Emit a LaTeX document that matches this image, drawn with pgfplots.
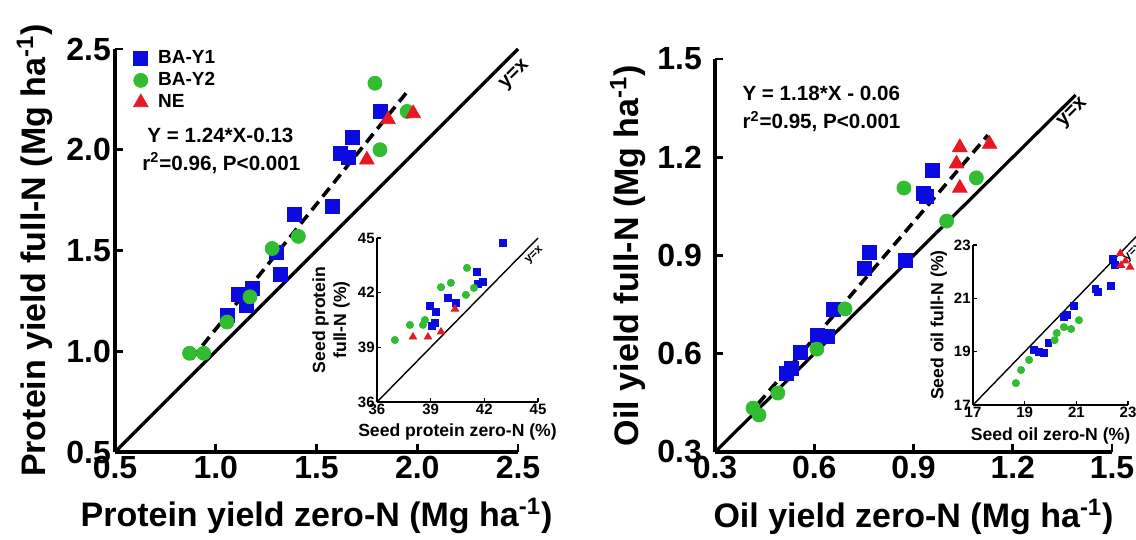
\documentclass[border=0pt]{standalone}
\usepackage{pgfplots}
\pgfplotsset{compat=1.18}
\usepackage{fontspec}
\setmainfont{Liberation Sans}
\definecolor{mblue}{RGB}{10,10,225}
\definecolor{mgreen}{RGB}{50,188,50}
\definecolor{mred}{RGB}{230,25,35}
\newcommand{\fs}[1]{\fontsize{#1}{#1}\selectfont\bfseries}
\pgfplotsset{
 mainax/.style={
  scale only axis,
  axis x line=bottom, axis y line=left,
  axis line style={-, line width=1.6pt},
  tick style={line width=1.4pt, black},
  major tick length=4pt,
  tick align=inside,
  /pgf/number format/assume math mode=true,
  /pgf/number format/fixed, /pgf/number format/fixed zerofill, /pgf/number format/precision=1,
  ticklabel style={font=\fs{16pt}},
  label style={font=\fs{17pt}},
  clip=false,
 },
 insax/.style={
  scale only axis, axis x line=bottom, axis y line=left,
  axis line style={-, line width=0.8pt},
  tick style={line width=0.6pt, black},
  major tick length=2pt, tick align=inside,
  /pgf/number format/assume math mode=true,
  ticklabel style={font=\fs{7.5pt}, inner sep=1pt},
  label style={font=\fs{8.8pt}},
  clip=false,
 },
 sq/.style={only marks, mark=square*, mark size=3.5pt, color=mblue, mark options={draw=mblue, fill=mblue}},
 ci/.style={only marks, mark=*, mark size=3.5pt, color=mgreen, mark options={draw=mgreen, fill=mgreen}},
 tr/.style={only marks, mark=triangle*, mark size=4.2pt, color=mred, mark options={draw=mred, fill=mred}},
 sqs/.style={only marks, mark=square*, mark size=1.7pt, color=mblue, mark options={draw=mblue, fill=mblue}},
 cis/.style={only marks, mark=*, mark size=1.8pt, color=mgreen, mark options={draw=mgreen, fill=mgreen}},
 trs/.style={only marks, mark=triangle*, mark size=2.1pt, color=mred, mark options={draw=mred, fill=mred}},
 idline/.style={black, line width=1.6pt, no marks},
 regline/.style={black, line width=1.8pt, dash pattern=on 5.5pt off 3.2pt, no marks},
}
\begin{document}
\begin{tikzpicture}
\useasboundingbox (0,0) rectangle (568pt,270pt);
\clip (0,0) rectangle (568pt,270pt);
% ---------------- Left main panel
\begin{axis}[mainax, at={(57.5pt,44pt)}, anchor=south west,
  width=201.5pt, height=201.5pt,
  xmin=0.5, xmax=2.5, ymin=0.5, ymax=2.5,
  xtick={0.5,1.0,1.5,2.0,2.5}, ytick={0.5,1.0,1.5,2.0,2.5},
  xticklabel style={yshift=1.5pt}, yticklabel style={xshift=1.5pt},
  xlabel={Protein yield zero-N (Mg ha\textsuperscript{-1})},
  ylabel={Protein yield full-N (Mg ha\textsuperscript{-1})},
  xlabel style={at={(axis description cs:0.5,-0.186)}, anchor=base},
  ylabel style={at={(axis description cs:-0.199,0.5)}, anchor=center, rotate=0},
  legend style={at={(axis description cs:0.045,1.008)}, anchor=north west, draw=none, fill=none,
    font=\fs{9.5pt}, row sep=-1pt, inner sep=0pt,
    /tikz/every odd column/.append style={column sep=3pt}},
  legend cell align=left,
]
\addplot[sq] table {
x y
1.815 2.19
1.68 2.06
1.62 1.98
1.66 1.96
1.58 1.72
1.39 1.68
1.30 1.49
1.32 1.38
1.18 1.31
1.11 1.28
1.15 1.23
1.06 1.18
};
\addlegendentry{BA-Y1}
\addplot[ci] table {
x y
1.79 2.33
1.95 2.19
1.815 2.00
1.41 1.57
1.28 1.51
1.17 1.27
1.056 1.145
0.87 0.99
0.94 0.99
};
\addlegendentry{BA-Y2}
\addplot[tr] table {
x y
1.98 2.18
1.855 2.15
1.75 1.95
};
\addlegendentry{NE}
\addplot[idline, forget plot] coordinates {(0.5,0.5) (2.5,2.5)};
\addplot[regline, forget plot] coordinates {(0.88,0.961) (1.96,2.300)};
\node[anchor=west, font=\fs{10.3pt}, inner sep=0pt] at (axis cs:0.659,2.073) {Y = 1.24*X-0.13};
\node[anchor=west, font=\fs{10.3pt}, inner sep=0pt] at (axis cs:0.634,1.934) {r\textsuperscript{2}=0.96, P<0.001};
\node[rotate=45, font=\fs{10pt}, inner sep=0pt] at (axis cs:2.485,2.371) {y=x};
\end{axis}
% ---------------- Left inset
\begin{axis}[insax, at={(188.5pt,69pt)}, anchor=south west,
  width=80.5pt, height=82pt,
  xmin=36, xmax=45, ymin=36, ymax=45,
  xtick={36,39,42,45}, ytick={36,39,42,45},
  xlabel={Seed protein zero-N (\%)},
  ylabel={\begin{tabular}{@{}c@{}}Seed protein\\[1.5pt] full-N (\%)\end{tabular}},
  xlabel style={at={(axis description cs:0.5,-0.21)}, anchor=base},
  ylabel style={at={(axis description cs:-0.28,0.5)}, anchor=center},
]
\addplot[sqs] table {
x y
43.04 44.74
41.59 43.14
41.92 42.6
41.64 42.48
39.97 41.7
40.41 41.44
38.96 41.27
39.3 40.95
39.24 40.34
39.07 40.18
};
\addplot[cis] table {
x y
41.03 43.36
41.42 42.26
40.13 42.54
39.58 42.3
40.97 41.88
38.68 40.5
38.57 40.23
37.84 40.23
37.0 39.4
};
\addplot[trs] table {
x y
40.36 41.1
39.58 39.85
38.85 39.57
38.01 39.57
};
\addplot[black, line width=0.7pt, no marks] coordinates {(36,36) (45,45)};
\node[rotate=45, font=\fs{6pt}, inner sep=0pt] at (axis cs:44.8,44.05) {y=x};
\end{axis}
% ---------------- Right main panel
\begin{axis}[mainax, at={(357.5pt,44pt)}, anchor=south west,
  width=198.5pt, height=196.5pt,
  xmin=0.3, xmax=1.5, ymin=0.3, ymax=1.5,
  xtick={0.3,0.6,0.9,1.2,1.5}, ytick={0.3,0.6,0.9,1.2,1.5},
  xticklabel style={yshift=1.5pt}, yticklabel style={xshift=-3pt},
  xlabel={Oil yield zero-N (Mg ha\textsuperscript{-1})},
  ylabel={Oil yield full-N (Mg ha\textsuperscript{-1})},
  xlabel style={at={(axis description cs:0.5,-0.193)}, anchor=base},
  ylabel style={at={(axis description cs:-0.219,0.5)}, anchor=center},
]
\addplot[sq] table {
x y
0.956 1.16
0.93 1.09
0.94 1.08
0.766 0.908
0.753 0.862
0.874 0.886
0.657 0.734
0.608 0.657
0.64 0.654
0.557 0.605
0.53 0.556
0.515 0.54
};
\addplot[ci] table {
x y
0.871 1.106
1.09 1.137
1.0 1.005
0.693 0.737
0.608 0.614
0.49 0.48
0.415 0.434
0.433 0.413
};
\addplot[tr] table {
x y
1.04 1.23
1.13 1.24
1.03 1.18
1.04 1.106
};
\addplot[idline] coordinates {(0.3,0.3) (1.39,1.39)};
\addplot[regline] coordinates {(0.43,0.447) (1.125,1.2675)};
\node[anchor=west, font=\fs{10.3pt}, inner sep=0pt] at (axis cs:0.382,1.396) {Y = 1.18*X - 0.06};
\node[anchor=west, font=\fs{10.3pt}, inner sep=0pt] at (axis cs:0.382,1.308) {r\textsuperscript{2}=0.95, P<0.001};
\node[rotate=45, font=\fs{10pt}, inner sep=0pt] at (axis cs:1.382,1.335) {y=x};
\end{axis}
% ---------------- Right inset
\begin{axis}[insax, at={(486.5pt,67.5pt)}, anchor=south west,
  width=77.5pt, height=80pt,
  xmin=17, xmax=23, ymin=17, ymax=23,
  xtick={17,19,21,23}, ytick={17,19,21,23},
  xlabel={Seed oil zero-N (\%)},
  ylabel={Seed oil full-N (\%)},
  xlabel style={at={(axis description cs:0.5,-0.22)}, anchor=base},
  ylabel style={at={(axis description cs:-0.22,0.5)}, anchor=center},
]
\addplot[sqs] table {
x y
22.41 22.47
22.5 22.24
22.34 21.46
21.82 21.23
21.74 21.34
20.91 20.71
20.64 20.37
20.52 20.30
19.92 19.32
19.37 19.06
19.73 18.95
19.55 19.0
};
\addplot[cis] table {
x y
21.1 20.18
20.8 19.85
20.52 19.92
20.24 19.7
20.16 19.43
19.17 18.69
18.86 18.31
18.66 17.82
};
\addplot[trs] table {
x y
22.7 22.69
22.73 22.24
23.08 22.17
22.9 22.4
};
\addplot[black, line width=0.7pt, no marks] coordinates {(17,17) (23.5,23.5)};
\node[rotate=45, font=\fs{6pt}, inner sep=0pt] at (axis cs:23.2,22.7) {y=x};
\end{axis}
\end{tikzpicture}
\end{document}
